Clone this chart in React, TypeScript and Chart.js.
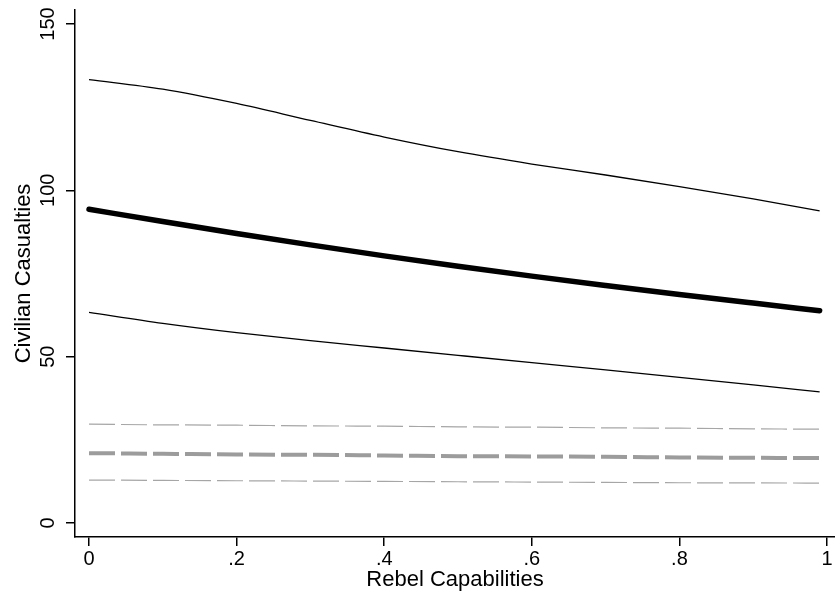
import React, { useEffect, useRef } from "react";
import { Chart, registerables } from "chart.js";

Chart.register(...registerables);

const xValues = [0, 0.1, 0.2, 0.3, 0.4, 0.5, 0.6, 0.7, 0.8, 0.9, 0.99];
const blackUpper = [133.3, 130.4, 126.1, 121.0, 116.0, 111.6, 107.9, 104.6, 101.1, 97.4, 93.8];
const blackCenter = [94.3, 90.6, 87.0, 83.6, 80.3, 77.2, 74.2, 71.4, 68.7, 66.1, 63.8];
const blackLower = [63.3, 60.0, 57.2, 54.8, 52.6, 50.4, 48.2, 46.0, 43.8, 41.5, 39.4];
const grayUpper = [29.7, 29.5, 29.4, 29.2, 29.1, 28.9, 28.8, 28.6, 28.5, 28.3, 28.2];
const grayCenter = [21.0, 20.8, 20.6, 20.5, 20.3, 20.1, 20.0, 19.9, 19.7, 19.6, 19.5];
const grayLower = [12.9, 12.8, 12.7, 12.6, 12.5, 12.4, 12.3, 12.2, 12.1, 12.05, 12.0];

const xTicks = [0, 0.2, 0.4, 0.6, 0.8, 1];
const xTickLabels = ["0", ".2", ".4", ".6", ".8", "1"];
const yTicks = [0, 50, 100, 150];
const yTickLabels = ["0", "50", "100", "150"];

const FONT = "'Liberation Sans', Arial, Helvetica, sans-serif";

const pts = (ys: number[]) => xValues.map((x, i) => ({ x, y: ys[i] }));

export default function App() {
  const ref = useRef<HTMLCanvasElement | null>(null);
  useEffect(() => {
    if (!ref.current) return;
    const common = { pointRadius: 0, cubicInterpolationMode: "monotone" as const };
    const chart = new Chart(ref.current, {
      type: "line",
      data: {
        datasets: [
          { ...common, data: pts(grayUpper), borderColor: "#a6a6a6", borderWidth: 1.2, borderDash: [26, 6] },
          { ...common, data: pts(grayLower), borderColor: "#a6a6a6", borderWidth: 1.2, borderDash: [26, 6] },
          { ...common, data: pts(grayCenter), borderColor: "#9c9c9c", borderWidth: 4, borderDash: [26, 6] },
          { ...common, data: pts(blackUpper), borderColor: "#000", borderWidth: 1.3 },
          { ...common, data: pts(blackLower), borderColor: "#000", borderWidth: 1.3 },
          { ...common, data: pts(blackCenter), borderColor: "#000", borderWidth: 5.5, borderCapStyle: "round" },
        ],
      },
      options: {
        animation: false,
        responsive: false,
        events: [],
        layout: { padding: { top: 10, left: 0, right: 0, bottom: 0 } },
        plugins: { legend: { display: false }, tooltip: { enabled: false } },
        scales: {
          x: {
            type: "linear",
            min: -0.019,
            max: 1.0108,
            afterBuildTicks: (s: any) => {
              s.ticks = xTicks.map((v) => ({ value: v }));
            },
            afterFit: (s: any) => {
              s.height = 59;
              s.paddingLeft = 0;
              s.paddingRight = 0;
            },
            ticks: {
              autoSkip: false,
              maxRotation: 0,
              color: "#000",
              padding: 3,
              font: { family: FONT, size: 20, lineHeight: 1 },
              callback: (v: any) => {
                const i = xTicks.findIndex((t) => Math.abs(t - v) < 1e-9);
                return i >= 0 ? xTickLabels[i] : "";
              },
            },
            grid: { drawOnChartArea: false, drawTicks: true, tickLength: 9, color: "#000", lineWidth: 1.5 },
            border: { display: true, color: "#000", width: 1.5 },
            title: {
              display: true,
              text: "Rebel Capabilities",
              color: "#000",
              font: { family: FONT, size: 22, lineHeight: 1.2 },
              padding: { top: 0, bottom: 3 },
            },
          },
          y: {
            type: "linear",
            min: -4.21,
            max: 154.2,
            afterBuildTicks: (s: any) => {
              s.ticks = yTicks.map((v) => ({ value: v }));
            },
            afterFit: (s: any) => {
              s.width = 75;
              s.paddingTop = 0;
              s.paddingBottom = 0;
            },
            ticks: {
              autoSkip: false,
              minRotation: 90,
              maxRotation: 90,
              crossAlign: "center",
              color: "#000",
              padding: 0.5,
              font: { family: FONT, size: 20, lineHeight: 1 },
              callback: (v: any) => {
                const i = yTicks.findIndex((t) => Math.abs(t - v) < 1e-9);
                return i >= 0 ? yTickLabels[i] : "";
              },
            },
            grid: { drawOnChartArea: false, drawTicks: true, tickLength: 9, color: "#000", lineWidth: 1.5 },
            border: { display: true, color: "#000", width: 1.5 },
            title: {
              display: true,
              text: "Civilian Casualties",
              color: "#000",
              font: { family: FONT, size: 22, lineHeight: 1.2 },
              padding: { top: 11, bottom: 0 },
            },
          },
        },
      },
    });
    return () => chart.destroy();
  }, []);
  return (
    <div style={{ position: "fixed", left: 0, top: 0, width: 835, height: 596, background: "#fff" }}>
      <canvas ref={ref} width={835} height={596} style={{ display: "block" }} />
    </div>
  );
}
